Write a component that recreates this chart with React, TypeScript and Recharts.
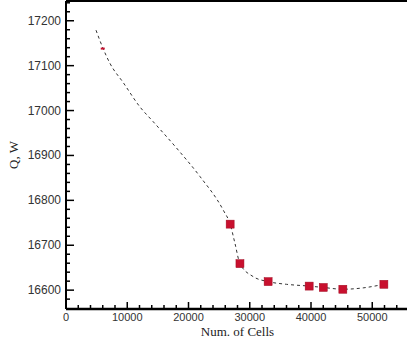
import React from 'react';
import { ComposedChart, Line, Scatter, XAxis, YAxis, ReferenceLine } from 'recharts';

// Measured grid-convergence points (Num. of Cells, Q in W)
const cells = [26800, 28400, 33000, 39700, 42000, 45200, 51900];
const qValues = [16747, 16659, 16619, 16609, 16606, 16602, 16613];

// Small red mark near the start of the curve
const markCells = [6000];
const markQ = [17138];

// Dashed fitted curve
const curveCells = [4900, 6090, 7180, 9360, 12080, 14250, 18330, 21880, 25680, 26800, 27590, 28400, 30580, 33000, 36000, 39700, 42000, 45200, 48500, 51900];
const curveQ = [17179, 17137, 17105, 17062, 17008, 16975, 16912, 16853, 16778, 16747, 16704, 16659, 16630, 16619, 16613, 16609, 16606, 16602, 16605, 16613];

const xTicks = Array.from({ length: 29 }, (_, i) => i * 2000);
const yTicks = Array.from({ length: 34 }, (_, i) => 16580 + i * 20);
const xDomain = [0, 56000];
const yDomain = [16558, 17244];

const points = cells.map((c, i) => ({ cells: c, q: qValues[i] }));
const marks = markCells.map((c, i) => ({ cells: c, q: markQ[i] }));
const curve = curveCells.map((c, i) => ({ cells: c, q: curveQ[i] }));

const RED = '#c8102e';

const XTick = (props: any) => {
  const { x, y, payload } = props;
  const major = payload.value % 10000 === 0;
  return (
    <g>
      <line x1={x} x2={x} y1={y} y2={y - (major ? 7 : 4)} stroke="#000" strokeWidth={1.5} />
      {major && (
        <text x={x} y={y + 12} textAnchor="middle" fontSize={11} fill="#333" fontFamily="Liberation Sans, Arial, sans-serif">
          {payload.value}
        </text>
      )}
    </g>
  );
};

const YTick = (props: any) => {
  const { x, y, payload } = props;
  const major = payload.value % 100 === 0;
  return (
    <g>
      <line x1={x} x2={x + (major ? 8 : 4)} y1={y} y2={y} stroke="#000" strokeWidth={1.5} />
      {major && (
        <text x={x - 5} y={y + 4} textAnchor="end" fontSize={12} fill="#333" fontFamily="Liberation Sans, Arial, sans-serif">
          {payload.value}
        </text>
      )}
    </g>
  );
};

const Square = (props: any) => {
  const { cx, cy } = props;
  return <rect x={cx - 4} y={cy - 4} width={8} height={8} fill={RED} stroke="#a00c22" strokeWidth={0.5} />;
};

const TinyMark = (props: any) => {
  const { cx, cy } = props;
  return <rect x={cx - 2} y={cy - 1} width={4} height={2} fill={RED} />;
};

const XTitle = (props: any) => {
  const { viewBox } = props;
  return (
    <text x={viewBox.x + viewBox.width / 2} y={336} textAnchor="middle" fontSize={13} fill="#222" fontFamily="Liberation Serif, Times New Roman, serif">
      Num. of Cells
    </text>
  );
};

const YTitle = (props: any) => {
  const { viewBox } = props;
  const cy = viewBox.y + viewBox.height / 2;
  return (
    <text x={14} y={cy} textAnchor="middle" fontSize={13} fill="#222" fontFamily="Liberation Serif, Times New Roman, serif" transform={`rotate(-90, 14, ${cy})`} dy={4}>
      Q, W
    </text>
  );
};

export default function App() {
  return (
    <div style={{ position: 'absolute', left: 0, top: 0, width: 407, height: 339, overflow: 'hidden', background: '#fff' }}>
      <ComposedChart width={420} height={339} margin={{ top: 1, right: 11, bottom: 0, left: 0 }}>
        <XAxis
          dataKey="cells"
          type="number"
          domain={xDomain}
          ticks={xTicks}
          interval={0}
          tick={<XTick />}
          tickLine={false}
          tickSize={0}
          tickMargin={0}
          height={30}
          axisLine={{ stroke: '#000', strokeWidth: 2.5 }}
          allowDataOverflow
          label={<XTitle />}
        />
        <YAxis
          dataKey="q"
          type="number"
          domain={yDomain}
          ticks={yTicks}
          interval={0}
          tick={<YTick />}
          tickLine={false}
          tickSize={0}
          tickMargin={0}
          width={66}
          axisLine={{ stroke: '#000', strokeWidth: 2 }}
          allowDataOverflow
          label={<YTitle />}
        />
        <ReferenceLine y={yDomain[1]} stroke="#000" strokeWidth={2} ifOverflow="extendDomain" />
        <Line
          data={curve}
          dataKey="q"
          type="monotone"
          stroke="#333"
          strokeWidth={1}
          strokeDasharray="3 3"
          dot={false}
          activeDot={false}
          isAnimationActive={false}
        />
        <Scatter data={marks} dataKey="q" shape={<TinyMark />} isAnimationActive={false} />
        <Scatter data={points} dataKey="q" shape={<Square />} isAnimationActive={false} />
      </ComposedChart>
    </div>
  );
}
